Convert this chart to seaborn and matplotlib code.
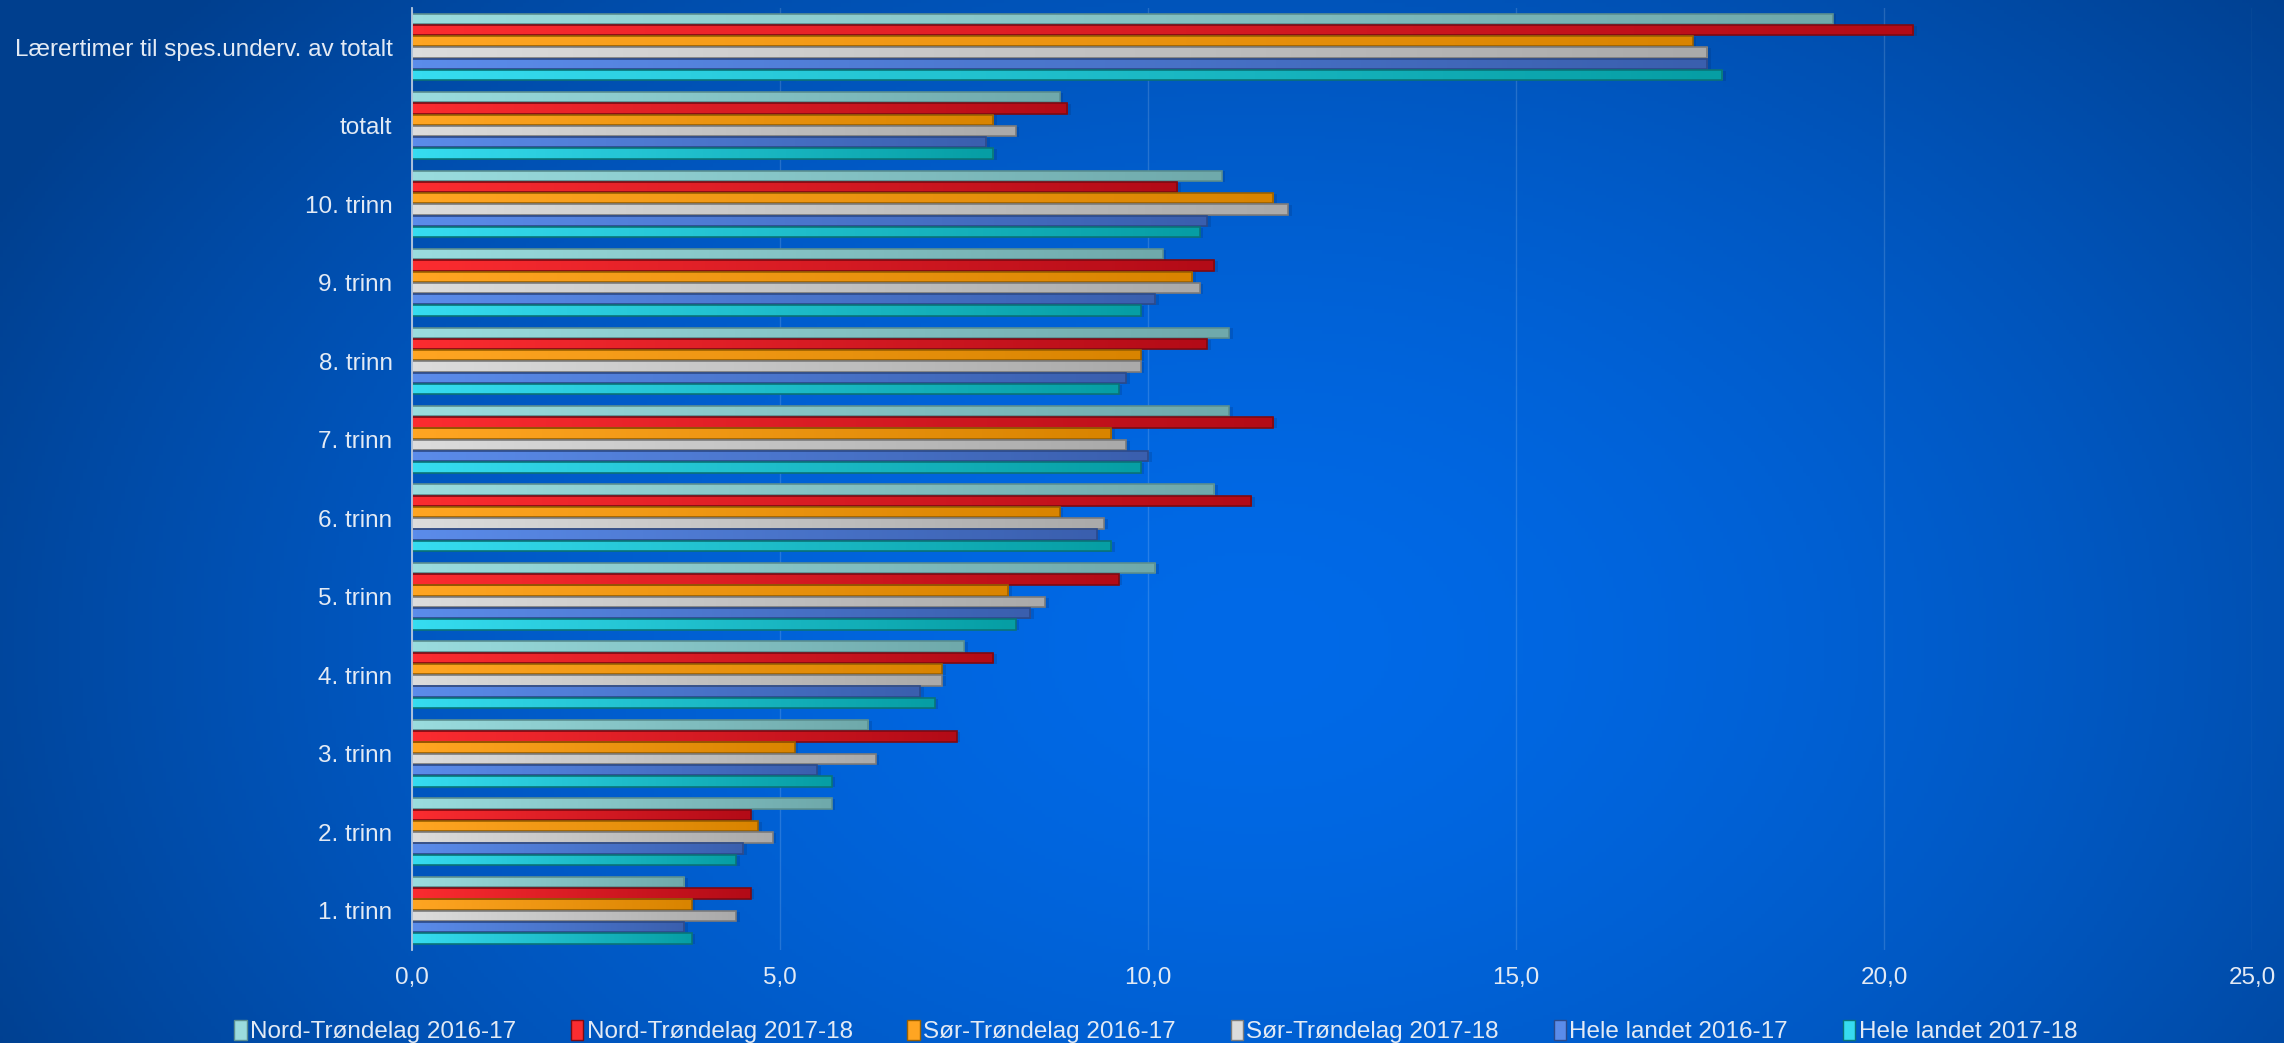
import matplotlib
matplotlib.use("Agg")
import matplotlib.pyplot as plt
import matplotlib.colors as mcolors
from matplotlib.patches import Patch
from matplotlib.ticker import FuncFormatter, MultipleLocator
import seaborn as sns
import pandas as pd
import numpy as np

# data
categories = ["Lærertimer til spes.underv. av totalt", "totalt", "10. trinn", "9. trinn",
              "8. trinn", "7. trinn", "6. trinn", "5. trinn", "4. trinn", "3. trinn",
              "2. trinn", "1. trinn"]
series = ["Nord-Trøndelag 2016-17", "Nord-Trøndelag 2017-18", "Sør-Trøndelag 2016-17",
          "Sør-Trøndelag 2017-18", "Hele landet 2016-17", "Hele landet 2017-18"]
nt_1617 = [19.3, 8.8, 11.0, 10.2, 11.1, 11.1, 10.9, 10.1, 7.5, 6.2, 5.7, 3.7]
nt_1718 = [20.4, 8.9, 10.4, 10.9, 10.8, 11.7, 11.4, 9.6, 7.9, 7.4, 4.6, 4.6]
st_1617 = [17.4, 7.9, 11.7, 10.6, 9.9, 9.5, 8.8, 8.1, 7.2, 5.2, 4.7, 3.8]
st_1718 = [17.6, 8.2, 11.9, 10.7, 9.9, 9.7, 9.4, 8.6, 7.2, 6.3, 4.9, 4.4]
hl_1617 = [17.6, 7.8, 10.8, 10.1, 9.7, 10.0, 9.3, 8.4, 6.9, 5.5, 4.5, 3.7]
hl_1718 = [17.8, 7.9, 10.7, 9.9, 9.6, 9.9, 9.5, 8.2, 7.1, 5.7, 4.4, 3.8]

values = [nt_1617, nt_1718, st_1617, st_1718, hl_1617, hl_1718]
rows = []
for s, vals in zip(series, values):
    for c, v in zip(categories, vals):
        rows.append({"kategori": c, "verdi": v, "serie": s})
df = pd.DataFrame(rows)

# (light, dark, edge) per series
grad = [("#9adcde", "#6fa9ab", "#5b8f90"),
        ("#fb2c30", "#b30b17", "#7e0a12"),
        ("#ffa522", "#d98400", "#9a6000"),
        ("#dcdcdc", "#aaaaaa", "#7c7c7c"),
        ("#5b8cea", "#3a5fae", "#2c4a8a"),
        ("#36dcf0", "#069ea4", "#0a7478")]

plt.rcParams["font.family"] = ["Liberation Sans", "DejaVu Sans"]
txt = "#e3eaf4"
fs = 17.5

fig = plt.figure(figsize=(22.84, 10.43), dpi=100)

# blue radial background
bg = fig.add_axes([0, 0, 1, 1], zorder=-5)
H, W = 300, 660
yy, xx = np.mgrid[0:1:H * 1j, 0:1:W * 1j]
d = np.sqrt(((xx - 0.55) / 0.62) ** 2 + ((yy - 0.62) / 0.95) ** 2)
t = np.clip(d, 0, 1) ** 1.6
c_in = np.array(mcolors.to_rgb("#006ae8"))
c_out = np.array(mcolors.to_rgb("#003f8e"))
img = c_in[None, None, :] * (1 - t[..., None]) + c_out[None, None, :] * t[..., None]
bg.imshow(img, aspect="auto", extent=(0, 1, 1, 0))
bg.axis("off")

ax = fig.add_axes([0.1804, 0.0892, 0.8056, 0.9031])
ax.set_facecolor("none")
sns.barplot(data=df, y="kategori", x="verdi", hue="serie", order=categories,
            hue_order=series, orient="h", width=0.86, palette=[g[0] for g in grad],
            ax=ax, legend=False, saturation=1)

ax.set_xlim(0, 25)
ylim = ax.get_ylim()
for i, cont in enumerate(ax.containers):
    light, dark, edge = grad[i]
    cmap = mcolors.LinearSegmentedColormap.from_list("g%d" % i, [light, dark])
    for p in cont.patches:
        x0, y0, w, h = p.get_x(), p.get_y(), p.get_width(), p.get_height()
        h2 = h * 0.93
        # soft shadow
        ax.add_patch(plt.Rectangle((x0, y0 + h * 0.07), w + 0.05, h2, color="#002a66",
                                   alpha=0.2, lw=0, zorder=1.5))
        p.set_height(h2)
        p.set_edgecolor(edge)
        p.set_linewidth(1.2)
        p.set_zorder(3)
        p.set_facecolor("none")
        im = ax.imshow(np.linspace(0, 1, 128).reshape(1, -1), cmap=cmap, aspect="auto",
                       extent=(x0, x0 + w, y0 + h2, y0), zorder=2, interpolation="bilinear")
        im.set_clip_path(p)
ax.set_xlim(0, 25)
ax.set_ylim(ylim)

ax.xaxis.set_major_locator(MultipleLocator(5))
ax.xaxis.set_major_formatter(FuncFormatter(lambda v, p: f"{v:.1f}".replace(".", ",")))
ax.grid(axis="x", color="#ffffff", alpha=0.15, lw=1)
ax.set_axisbelow(True)
for s in ["top", "right", "bottom"]:
    ax.spines[s].set_visible(False)
ax.spines["left"].set_color("#b9c9df")
ax.spines["left"].set_linewidth(1.3)
ax.spines["left"].set_zorder(4)
ax.tick_params(axis="both", length=0, colors=txt, labelsize=fs)
ax.tick_params(axis="y", pad=14)
ax.tick_params(axis="x", pad=12)
ax.set_xlabel("")
ax.set_ylabel("")

handles = [Patch(facecolor=g[0], edgecolor=g[2]) for g in grad]
fig.legend(handles, series, loc="lower center", bbox_to_anchor=(0.506, -0.021), ncol=6,
           frameon=False, fontsize=fs, labelcolor=txt, handlelength=0.5, handleheight=0.9,
           handletextpad=0.15, columnspacing=2.25)

fig.savefig("out.png", dpi=100)
plt.close(fig)
